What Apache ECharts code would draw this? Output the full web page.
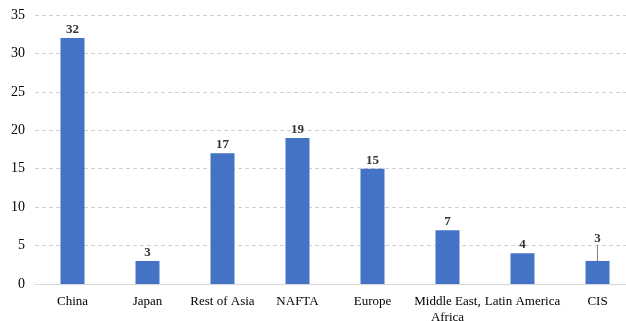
<!DOCTYPE html>
<html><head><meta charset="utf-8">
<script src="https://cdn.jsdelivr.net/npm/echarts@6/dist/echarts.min.js"></script>
<style>html,body{margin:0;padding:0;background:#fff}#c{width:626px;height:321px}</style>
</head><body><div id="c"></div>
<script>
const categories = ["China","Japan","Rest of Asia","NAFTA","Europe","Middle East,\nAfrica","Latin America","CIS"];
const values = [32,3,17,19,15,7,4,3];
const yTicks = {min:0,max:35,interval:5};
const font = "'Liberation Serif','Times New Roman',serif";
const chart = echarts.init(document.getElementById('c'));
const data = values.map((v,i)=> i===7 ? {value:v,labelLine:{show:true,length2:0,lineStyle:{color:'#7f7f7f',width:1}}} : v);
chart.setOption({
  animation:false,
  grid:{left:35,width:600,top:15,bottom:37,outerBoundsMode:'none',containLabel:false},
  xAxis:{type:'category',data:categories,
    axisLine:{lineStyle:{color:'#d9d9d9'}},axisTick:{show:false},
    axisLabel:{color:'#000',fontFamily:font,fontSize:13,interval:0,margin:10,lineHeight:16}},
  yAxis:{type:'value',min:yTicks.min,max:yTicks.max,interval:yTicks.interval,
    axisLine:{show:false},axisTick:{show:false},
    axisLabel:{color:'#000',fontFamily:font,fontSize:14,margin:10},
    splitLine:{lineStyle:{color:'#d0d0d0',type:[4,3]}}},
  series:[{type:'bar',data:data,barWidth:24,
    itemStyle:{color:'#4472C4'},
    labelLayout:function(p){ return p.dataIndex===7 ? {dy:-14} : {}; },
    label:{show:true,position:'top',distance:2,color:'#333',fontFamily:font,fontSize:13,fontWeight:'bold'}}]
});
</script></body></html>
